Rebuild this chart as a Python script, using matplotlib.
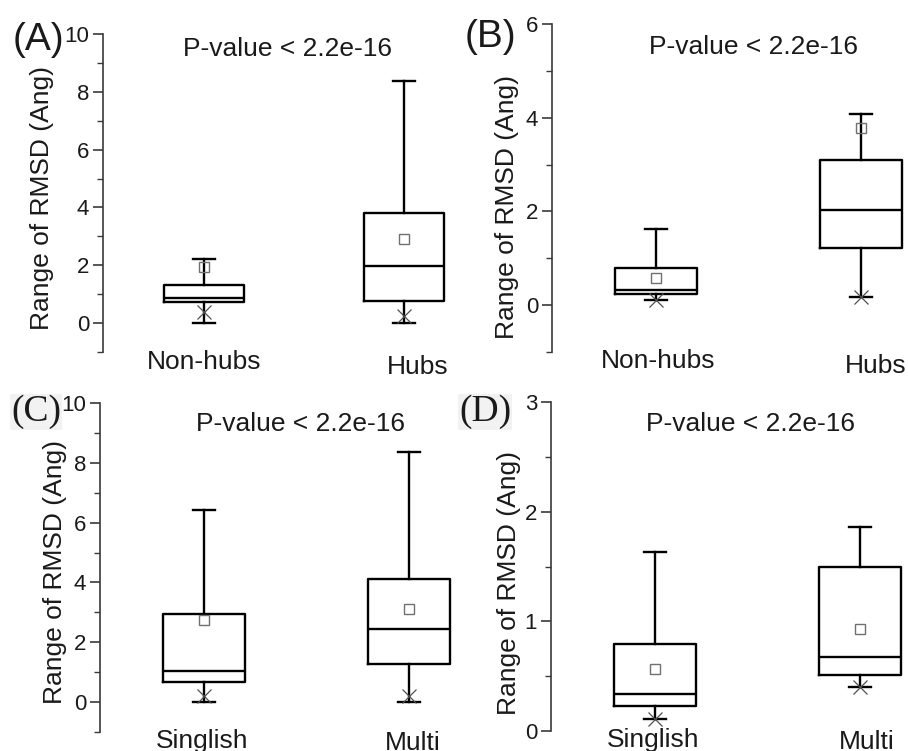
import matplotlib
matplotlib.use("Agg")
import matplotlib.pyplot as plt

W, H = 908, 751

# ---------------- data ----------------
cats_AB = ["Non-hubs", "Hubs"]
cats_CD = ["Singlish", "Multi"]
pvalue_text = "P-value < 2.2e-16"
ylabel_text = "Range of RMSD (Ang)"
panel_labels = ["(A)", "(B)", "(C)", "(D)"]

# each: [group1, group2]
A_whislo = [0.0, 0.0]
A_q1 = [0.73, 0.77]
A_med = [0.87, 1.96]
A_q3 = [1.33, 3.81]
A_whishi = [2.22, 8.39]
A_mean = [1.93, 2.92]
A_star = [0.40, 0.23]

B_whislo = [0.10, 0.17]
B_q1 = [0.23, 1.22]
B_med = [0.33, 2.02]
B_q3 = [0.80, 3.09]
B_whishi = [1.63, 4.08]
B_mean = [0.58, 3.78]
B_star = [0.10, 0.17]

C_whislo = [0.0, 0.0]
C_q1 = [0.67, 1.28]
C_med = [1.04, 2.46]
C_q3 = [2.96, 4.10]
C_whishi = [6.42, 8.35]
C_mean = [2.74, 3.11]
C_star = [0.22, 0.22]

D_whislo = [0.11, 0.405]
D_q1 = [0.228, 0.511]
D_med = [0.335, 0.678]
D_q3 = [0.79, 1.494]
D_whishi = [1.628, 1.856]
D_mean = [0.566, 0.931]
D_star = [0.11, 0.405]

A_ticks = [0, 2, 4, 6, 8, 10]
B_ticks = [0, 2, 4, 6]
C_ticks = [0, 2, 4, 6, 8, 10]
D_ticks = [0, 1, 2, 3]

# ---------------- layout (pixels) ----------------
panels = [
    dict(data=(A_whislo, A_q1, A_med, A_q3, A_whishi, A_mean, A_star), cats=cats_AB,
         ticks=A_ticks, minor=1.0, ylim=(-1, 10), left=103, top=34, bottom=352, width=351,
         unit=200, x1px=101,
         serif=False, lab_xy=(38, 40),
         ylab=(-0.174, 0.483), pv=(0.527, 0.953),
         catoff=[(0, 2), (14, -3)]),
    dict(data=(B_whislo, B_q1, B_med, B_q3, B_whishi, B_mean, B_star), cats=cats_AB,
         ticks=B_ticks, minor=1.0, ylim=(-1, 6), left=552, top=24, bottom=352, width=356,
         unit=205, x1px=104,
         serif=False, lab_xy=(490, 37),
         ylab=(-0.126, 0.441), pv=(0.565, 0.93),
         catoff=[(2, 3), (15, -2)]),
    dict(data=(C_whislo, C_q1, C_med, C_q3, C_whishi, C_mean, C_star), cats=cats_CD,
         ticks=C_ticks, minor=1.0, ylim=(-1, 10), left=100, top=403, bottom=732, width=354,
         unit=205, x1px=104,
         serif=True, lab_xy=(36, 412),
         ylab=(-0.127, 0.486), pv=(0.565, 0.936),
         catoff=[(-2, 3), (4, 1)]),
    dict(data=(D_whislo, D_q1, D_med, D_q3, D_whishi, D_mean, D_star), cats=cats_CD,
         ticks=D_ticks, minor=0.5, ylim=(0, 3), left=551, top=402, bottom=731, width=357,
         unit=205, x1px=104,
         serif=True, lab_xy=(485, 412),
         ylab=(-0.118, 0.45), pv=(0.56, 0.933),
         catoff=[(-2, 3), (7, 1)]),
]

sans = ["Liberation Sans", "DejaVu Sans"]
serif = ["Liberation Serif", "DejaVu Serif"]
plt.rcParams['font.family'] = sans

fig = plt.figure(figsize=(W / 100, H / 100), dpi=100)
spine_col = "#3a3a3a"

for i, p in enumerate(panels):
    l = p['left'] / W
    b = 1 - p['bottom'] / H
    w = p['width'] / W
    h = (p['bottom'] - p['top']) / H
    ax = fig.add_axes([l, b, w, h])
    whislo, q1, med, q3, whishi, mean, star = p['data']
    stats = []
    for k in range(2):
        stats.append(dict(whislo=whislo[k], q1=q1[k], med=med[k], q3=q3[k],
                          whishi=whishi[k], mean=mean[k], fliers=[], label=p['cats'][k]))
    pos = [1, 2]
    ax.bxp(stats, positions=pos, widths=0.4, showmeans=True, showfliers=False,
           capwidths=0.11,
           boxprops=dict(color='black', linewidth=1.7),
           whiskerprops=dict(color='black', linewidth=1.7),
           capprops=dict(color='black', linewidth=1.7),
           medianprops=dict(color='black', linewidth=1.7),
           meanprops=dict(marker='s', markerfacecolor='none', markeredgecolor='#707070',
                          markersize=7, markeredgewidth=1.0))
    ax.plot(pos, star, linestyle='none', marker='x', markersize=10, color='#505050',
            markeredgewidth=0.9, zorder=5)
    xlo = 1 - p['x1px'] / p['unit']
    ax.set_xlim(xlo, xlo + p['width'] / p['unit'])
    ax.set_ylim(*p['ylim'])
    for s in ['top', 'right', 'bottom']:
        ax.spines[s].set_visible(False)
    ax.spines['left'].set_color(spine_col)
    ax.spines['left'].set_linewidth(1.2)
    ax.set_xticks([])
    ax.set_yticks(p['ticks'])
    ax.set_yticks([t + p['minor'] for t in p['ticks'][:-1]] +
                  ([p['ticks'][0] - p['minor']] if p['ylim'][0] < p['ticks'][0] else []), minor=True)
    ax.tick_params(axis='y', which='major', direction='out', length=7, width=1.2,
                   color=spine_col, labelsize=16, pad=3, labelcolor='#1a1a1a')
    ax.tick_params(axis='y', which='minor', direction='out', length=4, width=1.0, color=spine_col)
    ax.patch.set_alpha(0)
    ax.set_ylabel(ylabel_text, fontsize=19, va='center', color='#1a1a1a')
    ax.yaxis.set_label_coords(*p['ylab'])
    ax.text(p['pv'][0], p['pv'][1], pvalue_text, transform=ax.transAxes, ha='center',
            va='center', fontsize=19, color='#1a1a1a')
    for k in range(2):
        dx, dy = p['catoff'][k]
        ax.annotate(p['cats'][k], xy=(pos[k], 0), xycoords=('data', 'axes fraction'),
                    xytext=(dx * 0.72, dy * 0.72), textcoords='offset points',
                    ha='center', va='top', fontsize=19, color='#1a1a1a', annotation_clip=False)
    lx, ly = p['lab_xy']
    if p['serif']:
        fig.text(lx / W, 1 - ly / H, panel_labels[i], ha='center', va='center', fontsize=27,
                 family=serif, color='#1a1a1a',
                 bbox=dict(facecolor='#f2f2f2', edgecolor='none', pad=0.5))
    else:
        fig.text(lx / W, 1 - ly / H, panel_labels[i], ha='center', va='center', fontsize=28,
                 family=sans, color='#1a1a1a')

fig.savefig("out.png", dpi=100)
